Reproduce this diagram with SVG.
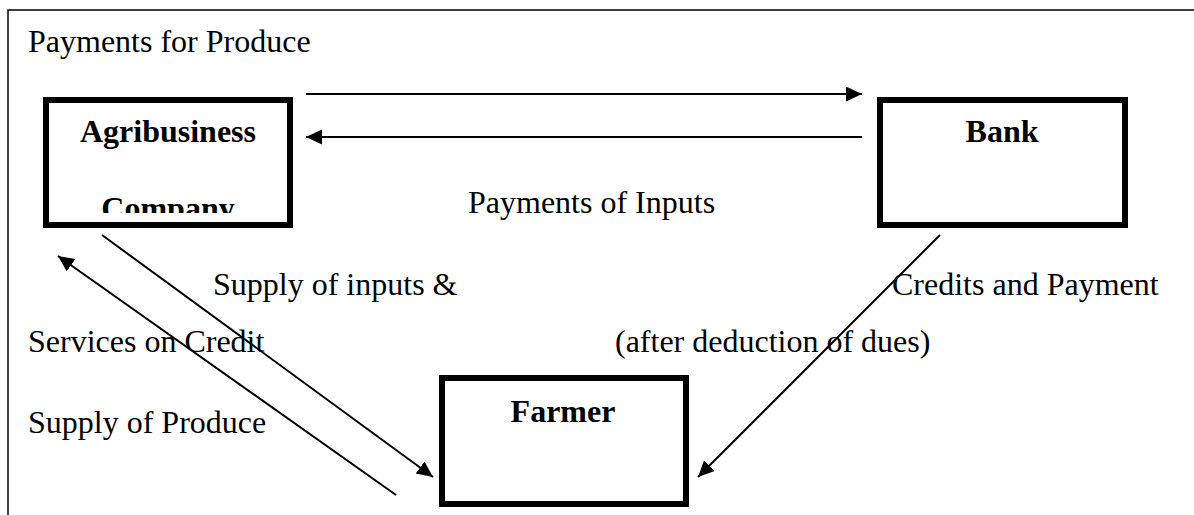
<svg xmlns="http://www.w3.org/2000/svg" width="1194" height="515" viewBox="0 0 1194 515">
  <style>
    .box { fill: #ffffff; stroke: #000000; stroke-width: 6; }
    .lbl { font-family: "Liberation Serif", "Times New Roman", serif; font-size: 32px; fill: #000000; }
    .bold { font-weight: bold; text-anchor: middle; }
    .conn { stroke: #000000; stroke-width: 2; fill: none; marker-end: url(#arrow); }
    .frame { stroke: #000000; stroke-width: 1.5; fill: none; }
  </style>
  <defs>
    <marker id="arrow" markerUnits="userSpaceOnUse" markerWidth="17" markerHeight="16" refX="16" refY="7.5" orient="auto">
      <path d="M0,0 L16,7.5 L0,15 z" fill="#000000"/>
    </marker>
    <clipPath id="clipCompany">
      <rect x="46" y="100" width="244" height="113"/>
    </clipPath>
  </defs>
  <rect width="1194" height="515" fill="#ffffff"/>
  <g id="frame">
    <path class="frame" d="M8,515 L8,10 L1194,10"/>
  </g>
  <g id="labels">
    <text class="lbl" x="28" y="52">Payments for Produce</text>
    <text class="lbl" x="468" y="213">Payments of Inputs</text>
    <text class="lbl" x="213" y="295">Supply of inputs &amp;</text>
    <text class="lbl" x="892" y="295">Credits and Payment</text>
    <text class="lbl" x="28" y="352">Services on Credit</text>
    <text class="lbl" x="615" y="352">(after deduction of dues)</text>
    <text class="lbl" x="28" y="433">Supply of Produce</text>
  </g>
  <g id="node-agribusiness">
    <rect class="box" x="46" y="100" width="244" height="125"/>
    <text class="lbl bold" x="168" y="142">Agribusiness</text>
    <text class="lbl bold" x="168" y="219" clip-path="url(#clipCompany)">Company</text>
  </g>
  <g id="node-bank">
    <rect class="box" x="880" y="100" width="245" height="125"/>
    <text class="lbl bold" x="1002" y="142">Bank</text>
  </g>
  <g id="node-farmer">
    <rect class="box" x="442" y="378" width="244" height="126"/>
    <text class="lbl bold" x="563" y="422">Farmer</text>
  </g>
  <g id="connectors">
    <line class="conn" x1="306" y1="94" x2="862" y2="94"/>
    <line class="conn" x1="862" y1="137" x2="306" y2="137"/>
    <line class="conn" x1="102" y1="235" x2="433" y2="477"/>
    <line class="conn" x1="396" y1="495" x2="58" y2="256"/>
    <line class="conn" x1="940" y1="235" x2="698" y2="477"/>
  </g>
</svg>
